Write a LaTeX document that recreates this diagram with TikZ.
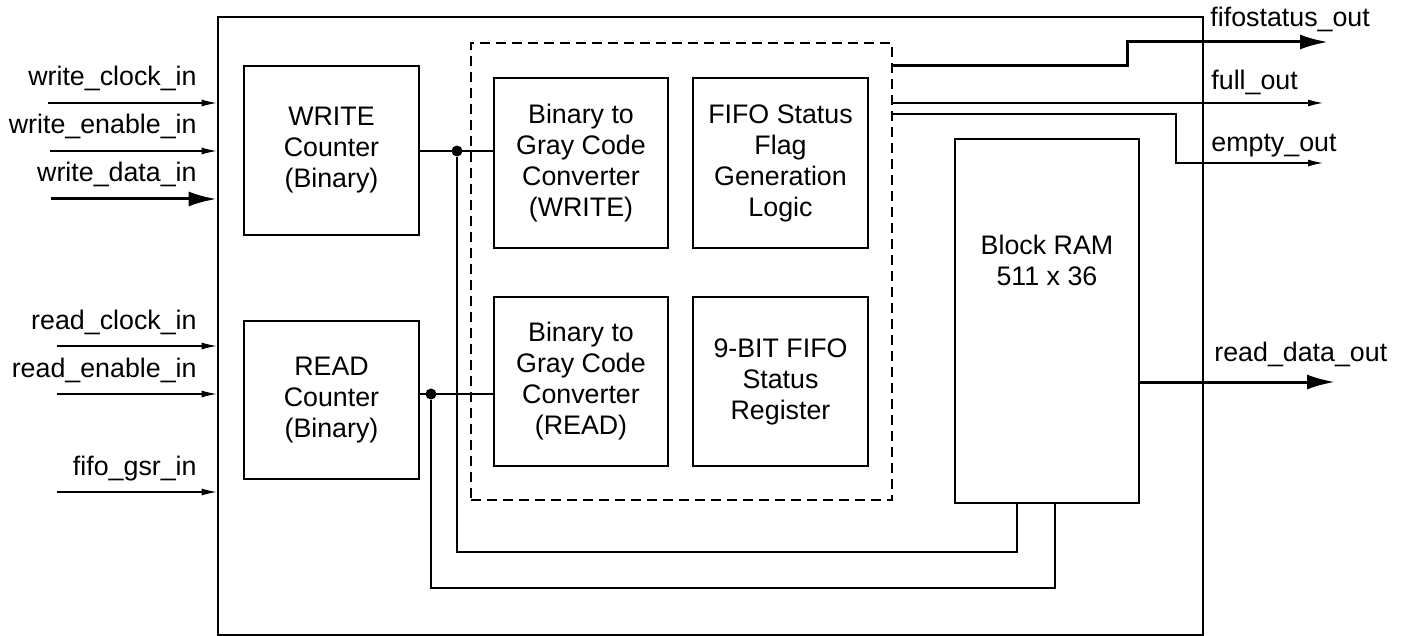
\documentclass[tikz,border=0pt]{standalone}
\usepackage{fontspec}
\setmainfont{Liberation Sans}
\usetikzlibrary{arrows.meta}
\begin{document}
\begin{tikzpicture}[x=0.5pt,y=-0.5pt,
  every node/.style={font=\fontsize{13.4}{15.5}\selectfont},
  blk/.style={draw,line width=1.1pt,align=center,inner sep=0pt},
  grpbox/.style={draw,line width=1.1pt,dash pattern=on 5pt off 3pt,inner sep=0pt},
  wire/.style={line width=0.6pt},
  sig/.style={line width=0.6pt,-{Latex[length=7.5pt,width=3.5pt]}},
  bus/.style={line width=1.5pt,-{Latex[length=14pt,width=7.5pt]}},
  lbl/.style={inner sep=0pt},
  jdot/.style={circle,fill,inner sep=0pt,minimum size=5.5pt}
]
\useasboundingbox (0,0) rectangle (1408,636);
% outer box
\node[draw,line width=1.35pt,inner sep=0pt,minimum width=492.5pt,minimum height=309pt] (main) at (710.5,326) {};
% blocks
\node[blk,minimum width=87.5pt,minimum height=84.5pt] (wc) at (331.5,150.5) {WRITE\\Counter\\(Binary)};
\node[blk,minimum width=87.5pt,minimum height=79pt] (rc) at (331.5,400) {READ\\Counter\\(Binary)};
\node[grpbox,minimum width=210.5pt,minimum height=228.5pt] (grp) at (681.5,271.5) {};
\node[blk,minimum width=87pt,minimum height=85pt] (gw) at (581,163) {Binary to\\Gray Code\\Converter\\(WRITE)};
\node[blk,minimum width=87.5pt,minimum height=85pt] (fs) at (780.5,163) {FIFO Status\\Flag\\Generation\\Logic};
\node[blk,minimum width=87pt,minimum height=84.5pt] (gr) at (581,381.5) {Binary to\\Gray Code\\Converter\\(READ)};
\node[blk,minimum width=87.5pt,minimum height=84.5pt] (sr) at (780.5,381.5) {9-BIT FIFO\\Status\\Register};
\node[blk,minimum width=92pt,minimum height=182pt,
  label={[anchor=center,label distance=0pt,yshift=-61.5pt,align=center,inner sep=0pt]north:Block RAM\\511 x 36}] (ram) at (1047,321) {};
% left labels
\node[lbl,anchor=base east] (lwc) at (197,86) {write\_clock\_in};
\node[lbl,anchor=base east] (lwe) at (197,134) {write\_enable\_in};
\node[lbl,anchor=base east] (lwd) at (197,182) {write\_data\_in};
\node[lbl,anchor=base east] (lrc) at (197,329) {read\_clock\_in};
\node[lbl,anchor=base east] (lre) at (197,377) {read\_enable\_in};
\node[lbl,anchor=base east] (lgs) at (197,475) {fifo\_gsr\_in};
% input start points
\coordinate (iwc) at (48,103);
\coordinate (iwe) at (50,151);
\coordinate (iwd) at (51,199);
\coordinate (irc) at (57,346);
\coordinate (ire) at (57,394);
\coordinate (igs) at (57,492);
\draw[sig] (iwc) -- (iwc -| main.west);
\draw[sig] (iwe) -- (iwe -| main.west);
\draw[bus] (iwd) -- (iwd -| main.west);
\draw[sig] (irc) -- (irc -| main.west);
\draw[sig] (ire) -- (ire -| main.west);
\draw[sig] (igs) -- (igs -| main.west);
% right labels
\node[lbl,anchor=base west] (lfs) at (1210,27) {fifostatus\_out};
\node[lbl,anchor=base west] (lfo) at (1211,90) {full\_out};
\node[lbl,anchor=base west] (leo) at (1211,152) {empty\_out};
\node[lbl,anchor=base west] (lrd) at (1214,361) {read\_data\_out};
% output end points
\coordinate (ofs) at (1328,42);
\coordinate (ofsk) at (1127,54);
\coordinate (ofo) at (1323,103);
\coordinate (oeo) at (1323,163);
\coordinate (oeok) at (1176,140);
\coordinate (ord) at (1335,382);
\draw[bus] (grp.east |- 0,66) -| (ofsk) |- (ofs);
\draw[sig] (grp.east |- ofo) -- (ofo);
\draw[sig] (grp.east |- 0,114) -| (oeok) |- (oeo);
\draw[bus] (ram.east |- ord) -- (ord);
% counter connections
\node[jdot] (wd) at (457,151) {};
\node[jdot] (rd) at (431,394) {};
\coordinate (wturn) at (1017,552);
\coordinate (rturn) at (1055,588);
\draw[wire] (wc.east |- wd) -- (gw.west |- wd);
\draw[wire] (rc.east |- rd) -- (gr.west |- rd);
\draw[wire] (wd) |- (wturn) -- (ram.south -| wturn);
\draw[wire] (rd) |- (rturn) -- (ram.south -| rturn);
\end{tikzpicture}
\end{document}
